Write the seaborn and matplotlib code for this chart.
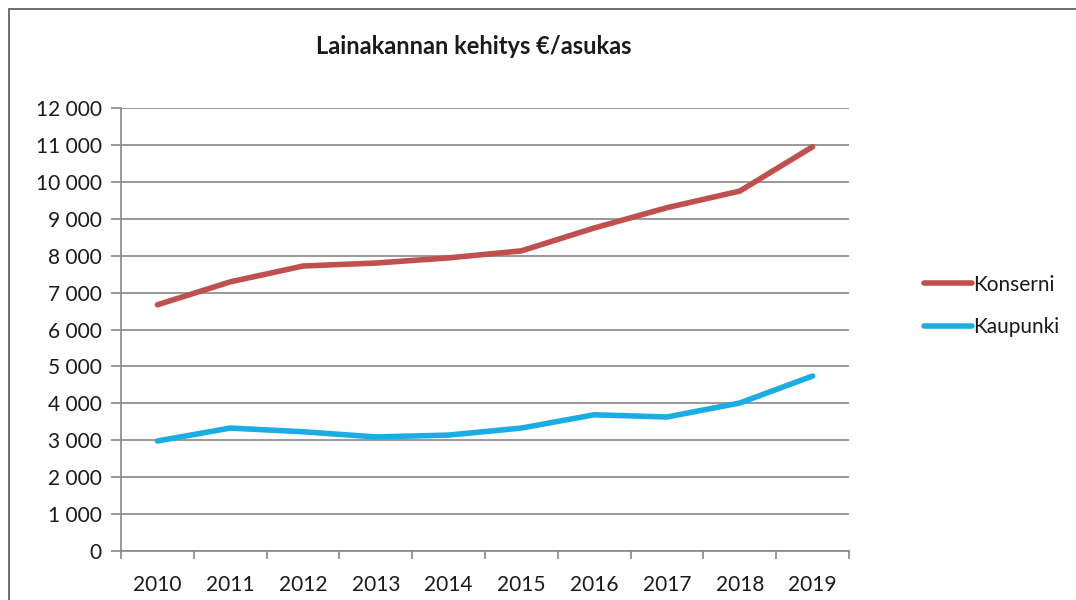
import numpy as np
import pandas as pd
import seaborn as sns
import matplotlib.pyplot as plt
from matplotlib.patches import Rectangle

# data
years = [2010, 2011, 2012, 2013, 2014, 2015, 2016, 2017, 2018, 2019]
konserni = [6670, 7290, 7720, 7800, 7940, 8130, 8750, 9300, 9750, 10950]
kaupunki = [2980, 3330, 3230, 3090, 3140, 3330, 3690, 3630, 4010, 4740]
series_names = ['Konserni', 'Kaupunki']
colors = ['#C0504D', '#1AADE3']
y_ticks = list(range(0, 12001, 1000))

sns.set_theme(style='white')
plt.rcParams['font.family'] = ['Lato', 'DejaVu Sans']

df = pd.DataFrame({
    'pos': list(range(len(years))) * 2,
    'value': konserni + kaupunki,
    'series': [series_names[0]] * len(years) + [series_names[1]] * len(years),
})

fig = plt.figure(figsize=(10.76, 6), dpi=100)
ax = fig.add_axes([121 / 1076, 49 / 600, (849 - 121) / 1076, (551 - 108) / 600])

sns.lineplot(data=df, x='pos', y='value', hue='series', palette=colors,
             linewidth=4, ax=ax, solid_capstyle='round', legend=True)

ax.set_xlim(-0.5, len(years) - 0.5)
ax.set_ylim(0, 12000)
ax.set_yticks(y_ticks)
ax.set_yticklabels([f'{v:,}'.replace(',', ' ') for v in y_ticks], fontsize=15, color='#1a1a1a')
ax.set_xticks(range(len(years)))
ax.set_xticklabels(years, fontsize=15, color='#1a1a1a')
ax.set_xticks(np.arange(-0.5, len(years), 1), minor=True)
ax.tick_params(axis='x', which='major', length=0, pad=17)
ax.tick_params(axis='x', which='minor', length=6, width=1.2, color='#888888', direction='out', bottom=True)
ax.tick_params(axis='y', length=7, width=1.2, color='#888888', direction='out', left=True, pad=7)
ax.set_xlabel('')
ax.set_ylabel('')
ax.grid(axis='y', color='#888888', linewidth=1.2)
ax.set_axisbelow(True)
for side in ['top', 'right']:
    ax.spines[side].set_visible(False)
for side in ['left', 'bottom']:
    ax.spines[side].set_color('#888888')
    ax.spines[side].set_linewidth(1.2)

leg = ax.legend(loc='center left', bbox_to_anchor=(1.077, 0.553), frameon=False,
                fontsize=15, handlelength=2.3, handletextpad=0.05, labelspacing=1.1)
for line in leg.get_lines():
    line.set_linewidth(4)
    line.set_solid_capstyle('round')
for t in leg.get_texts():
    t.set_color('#1a1a1a')

fig.text(474 / 1076, 1 - 46 / 600, 'Lainakannan kehitys €/asukas', ha='center', va='center',
         fontsize=17, fontweight='bold', color='#1a1a1a')

fig.patches.append(Rectangle((9 / 1076, -0.05), 1.2, 1 - 9 / 600 + 0.05, transform=fig.transFigure,
                             fill=False, edgecolor='#555555', linewidth=1.2))

fig.savefig('out.png', dpi=100)
